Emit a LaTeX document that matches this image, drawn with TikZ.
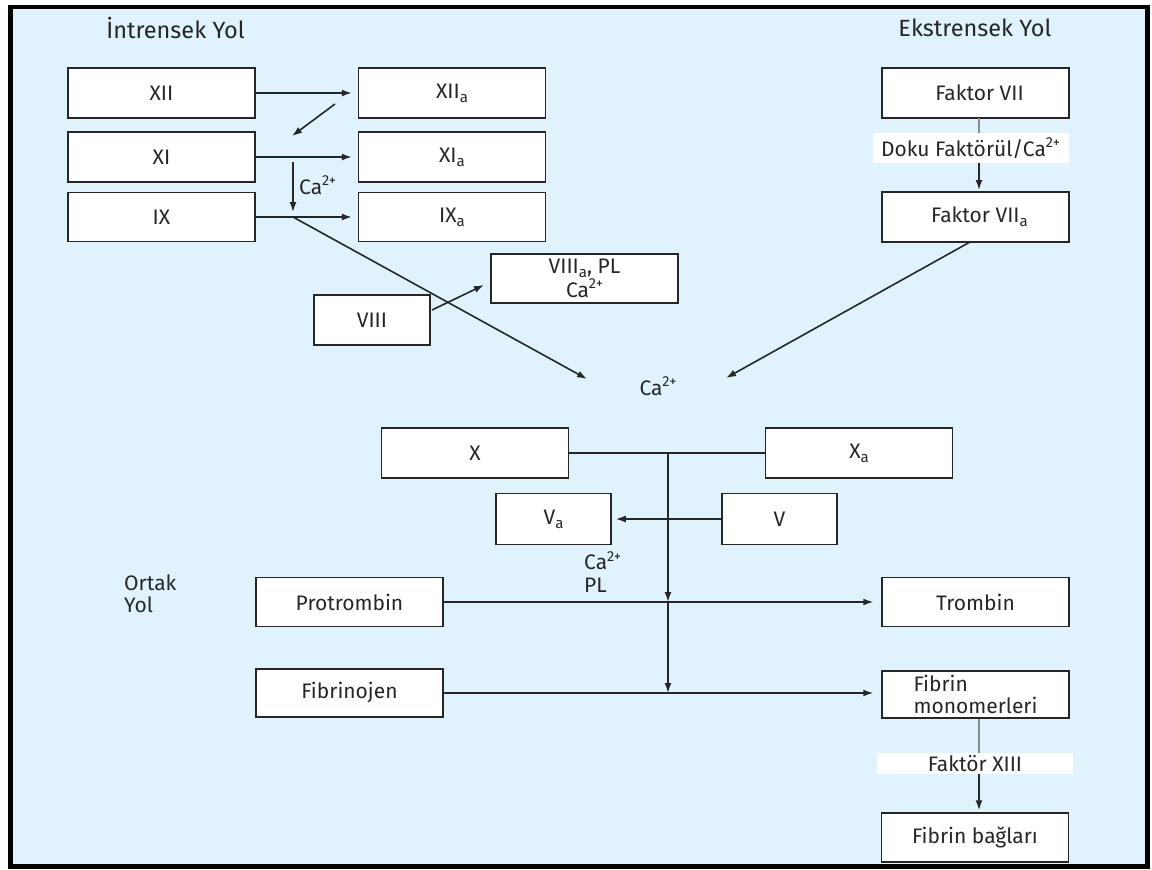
\documentclass[tikz,border=0pt]{standalone}
\usepackage{fontspec}
\setmainfont{Fira Sans}
\usetikzlibrary{arrows.meta}
\definecolor{bgblue}{RGB}{224,242,252}
\definecolor{ink}{RGB}{38,38,38}
\definecolor{lgray}{RGB}{140,140,140}
\newcommand\mysup[1]{\raisebox{0.42em}{\fontsize{14.5}{14.5}\selectfont #1}}
\newcommand\mysub[1]{\raisebox{-0.2em}{\fontsize{15}{15}\selectfont #1}}
\begin{document}
\begin{tikzpicture}[x=1pt,y=-1pt,
  box/.style={draw=ink, line width=1.5pt, fill=white, inner sep=0pt, text=ink,
              font=\fontsize{21}{22}\selectfont, minimum height=50pt},
  wide/.style={box, minimum width=187pt},
  narrow/.style={box, minimum width=115pt},
  conn/.style={draw=ink, line width=1.6pt},
  arr/.style={conn, -{Latex[length=10pt,width=7pt]}},
  lbl/.style={inner sep=0pt, text=ink, font=\fontsize{21}{22}\selectfont},
  title/.style={lbl, font=\fontsize{23.5}{24}\selectfont},
  tag/.style={lbl, fill=white, minimum width=196pt}]
\useasboundingbox (0,0) rectangle (1152,870);
\draw[line width=4.5pt, fill=bgblue] (10.5,7) rectangle (1147.5,866.5);

% titles
\node[title] (tin) at (175.5,28) {İntrensek Yol};
\node[title] (tex) at (975,28) {Ekstrensek Yol};
\node[lbl, align=left, anchor=north west] (ortak) at (124,575) {Ortak\\Yol};

% intrinsic boxes
\node[wide] (xii)  at (161.5,93)  {XII};
\node[wide] (xiia) at (452,93)    {XII\mysub{a}};
\node[wide] (xi)   at (161.5,157) {XI};
\node[wide] (xia)  at (452,157)   {XI\mysub{a}};
\node[wide, minimum height=49pt] (ix)   at (161.5,217) {IX};
\node[wide, minimum height=49pt] (ixa)  at (452,217)   {IX\mysub{a}};
\node[narrow, minimum width=116pt] (viii) at (372,320) {VIII};
\node[wide, minimum height=49pt, align=center, font=\fontsize{21}{23}\selectfont] (viiia) at (584.5,278.5)
  {VIII\mysub{a}, PL\\Ca\mysup{2+}};

% extrinsic boxes
\node[wide] (f7)  at (975.5,93)  {\hspace{8pt}Faktor VII};
\node[wide] (f7a) at (975.5,217) {\hspace{8pt}Faktor VII\mysub{a}};
\node[tag, minimum height=30pt] (doku) at (970.5,148) {Doku Faktörül/Ca\mysup{2+}};

% common pathway
\node[lbl] (ca) at (658,386) {Ca\mysup{2+}};
\node[wide] (x)   at (475,453) {X};
\node[wide] (xa)  at (859,453) {X\mysub{a}};
\node[narrow, minimum height=51pt] (va) at (553.5,519) {V\mysub{a}};
\node[narrow, minimum height=51pt] (v)  at (779.5,519) {V};
\node[lbl, align=left, anchor=west, font=\fontsize{21}{23}\selectfont] (capl) at (584,572) {Ca\mysup{2+}\\PL};
\node[wide, minimum height=49pt] (pro) at (349.5,602) {Protrombin};
\node[wide, minimum height=49pt] (tro) at (975.5,602) {Trombin};
\node[wide, minimum height=48pt] (fbg) at (349.5,693) {Fibrinojen};
\node[wide, minimum height=47pt, align=left] (fmo) at (975.5,694.5) {Fibrin\\monomerleri};
\node[tag, minimum height=21pt] (f13) at (975,763.5) {Faktör XIII};
\node[wide, minimum height=49pt] (fba) at (975,837.5) {Fibrin bağları};

% coordinates
\coordinate (d1s) at (335,104);
\coordinate (d1e) at (292,136);
\coordinate (cas) at (293,162);
\coordinate (cae) at (293,212);
\coordinate (b1)  at (293,217);
\coordinate (b1e) at (587,379);
\coordinate (v8s) at (432,310);
\coordinate (v8e) at (484,285);
\coordinate (f7s) at (970,242);
\coordinate (f7e) at (726,378);
\coordinate (j)   at (668,453);
\coordinate (j1)  at (668,602);
\coordinate (j2)  at (668,693);

% intrinsic connectors
\draw[arr, shorten >=6pt] (xii) -- (xiia);
\draw[arr] (d1s) -- (d1e);
\draw[arr, shorten >=6pt] (xi) -- (xia);
\draw[arr] (cas) -- (cae);
\node[lbl, anchor=west] (cal) at (299,185) {Ca\mysup{2+}};
\draw[arr, shorten >=6pt] (ix) -- (ixa);
\draw[arr] (b1) -- (b1e);
\draw[arr] (v8s) -- (v8e);

% extrinsic connectors
\draw[draw=lgray, line width=1.4pt] (979,118) -- (979,133);
\draw[arr] (979,163) -- (979,190);
\draw[arr] (f7s) -- (f7e);

% common connectors
\draw[conn] (x.east) -- (xa.west);
\draw[arr] (j) -- (j1);
\draw[arr] (j1) -- (j2);
\draw[arr, shorten >=4pt] (v) -- (va);
\draw[arr, shorten >=8pt] (pro) -- (tro);
\draw[arr, shorten >=8pt] (fbg.east) -- (fmo.west |- fbg.east);
\draw[draw=lgray, line width=1.4pt] (fmo.south -| 979,0) -- (f13.north -| 979,0);
\draw[arr, shorten >=2pt] (f13.south -| 979,0) -- (fba.north -| 979,0);
\end{tikzpicture}
\end{document}
